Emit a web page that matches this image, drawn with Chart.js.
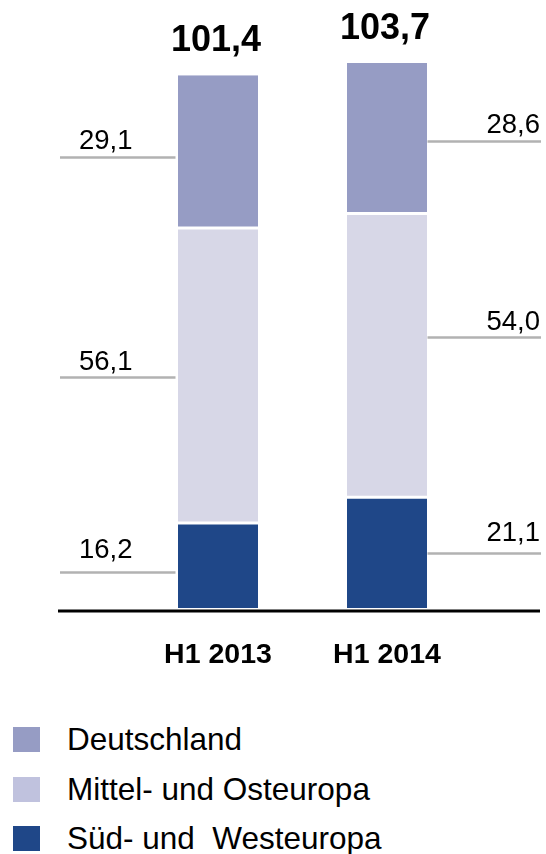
<!DOCTYPE html>
<html>
<head>
<meta charset="utf-8">
<script src="https://cdn.jsdelivr.net/npm/chart.js@4.4.1/dist/chart.umd.min.js"></script>
<style>
  html, body { margin: 0; padding: 0; background: #fff; }
  #wrap { position: relative; width: 546px; height: 854px; overflow: hidden; }
  canvas { position: absolute; left: 0; top: 0; }
  #legend { position: absolute; left: 0; top: 715px; font-family: "Liberation Sans", Arial, sans-serif; font-size: 31.5px; color: #000; }
  .item { display: flex; align-items: center; height: 49.5px; white-space: pre; }
  .sw { width: 27px; height: 25px; margin-left: 13px; margin-right: 27px; }
</style>
</head>
<body>
<div id="wrap">
  <canvas id="c" width="546" height="690"></canvas>
  <div id="legend"></div>
</div>
<script>
// ---- data ----
const categories = ["H1 2013", "H1 2014"];
const seriesNames = ["Süd- und  Westeuropa", "Mittel- und Osteuropa", "Deutschland"];
const sued = [16.2, 21.1];
const mittel = [56.1, 54.0];
const deutschland = [29.1, 28.6];

// ---- styles ----
const barColors = ["#1F4788", "#D7D7E7", "#969CC4"];
const legendColors = { "Deutschland": "#969CC4", "Mittel- und Osteuropa": "#C0C2DE", "Süd- und  Westeuropa": "#1F4788" };
const legendOrder = ["Deutschland", "Mittel- und Osteuropa", "Süd- und  Westeuropa"];
const FONT = '"Liberation Sans", Arial, sans-serif';
const fmt = v => v.toFixed(1).replace('.', ',');

const seriesValues = [sued, mittel, deutschland];
const borders = [
  { top: 1.5, bottom: 0, left: 0, right: 0 },
  { top: 1.5, bottom: 1.5, left: 0, right: 0 },
  { top: 0, bottom: 1.5, left: 0, right: 0 }
];

const segLabels = {
  id: 'segLabels',
  afterDatasetsDraw(chart, args, opts) {
    const ctx = chart.ctx;
    const ys = chart.scales.y;
    ctx.save();
    // baseline
    const by = ys.getPixelForValue(0) + 3;
    ctx.strokeStyle = '#000';
    ctx.lineWidth = 3;
    ctx.beginPath(); ctx.moveTo(58, by); ctx.lineTo(540, by); ctx.stroke();

    const n = chart.data.datasets.length;
    chart.data.datasets.forEach((ds, di) => {
      const meta = chart.getDatasetMeta(di);
      meta.data.forEach((bar, i) => {
        const p = bar.getProps(['x', 'y', 'base', 'width'], true);
        const mid = (p.y + p.base) / 2 + opts.offsets[i][di];
        const ly = Math.round(mid) + 0.5;
        ctx.strokeStyle = '#B2B2B2';
        ctx.lineWidth = 2.5;
        ctx.beginPath();
        ctx.fillStyle = '#000';
        ctx.font = '27.5px ' + FONT;
        ctx.textBaseline = 'alphabetic';
        const txt = fmt(ds.data[i]);
        if (i === 0) {
          ctx.moveTo(60, ly); ctx.lineTo(p.x - p.width / 2 - 2.5, ly); ctx.stroke();
          ctx.textAlign = 'left';
          ctx.fillText(txt, 79, ly - opts.gaps[i][di]);
        } else {
          ctx.moveTo(p.x + p.width / 2 + 0.5, ly); ctx.lineTo(541, ly); ctx.stroke();
          ctx.textAlign = 'right';
          ctx.fillText(txt, 540, ly - opts.gaps[i][di]);
        }
        if (di === n - 1) {
          let total = 0;
          chart.data.datasets.forEach(d => total += d.data[i]);
          ctx.font = 'bold 36px ' + FONT;
          ctx.textAlign = 'center';
          ctx.textBaseline = 'middle';
          ctx.fillText(fmt(total), p.x - 2, p.y - 34);
        }
      });
    });
    ctx.restore();
  }
};

new Chart(document.getElementById('c'), {
  type: 'bar',
  data: {
    labels: categories,
    datasets: seriesNames.map((name, k) => ({
      label: name,
      data: seriesValues[k],
      backgroundColor: barColors[k],
      borderColor: '#FFFFFF',
      borderWidth: borders[k],
      borderSkipped: false,
      categoryPercentage: 1,
      barPercentage: 0.4734
    }))
  },
  options: {
    responsive: false,
    animation: false,
    events: [],
    layout: { padding: { left: 133.5, right: 74.5, top: 30, bottom: 22 } },
    plugins: {
      legend: { display: false },
      tooltip: { enabled: false },
      segLabels: {
        offsets: [[6.8, 1.2, 4.9], [0.4, -18.7, 2.6]],
        gaps: [[15, 8, 9], [13, 8, 9]]
      }
    },
    scales: {
      x: {
        stacked: true,
        grid: { display: false },
        border: { display: false },
        ticks: { color: '#000', font: { family: FONT, size: 28.5, weight: 'bold' }, padding: 22 },
        afterFit(scale) { scale.height = 60; }
      },
      y: {
        stacked: true,
        display: false,
        min: 0,
        max: 110
      }
    }
  },
  plugins: [segLabels]
});

// legend (HTML, real text)
const lg = document.getElementById('legend');
legendOrder.forEach(name => {
  const row = document.createElement('div');
  row.className = 'item';
  const sw = document.createElement('div');
  sw.className = 'sw';
  sw.style.background = legendColors[name];
  const t = document.createElement('span');
  t.textContent = name;
  row.appendChild(sw); row.appendChild(t);
  lg.appendChild(row);
});
</script>
</body>
</html>
